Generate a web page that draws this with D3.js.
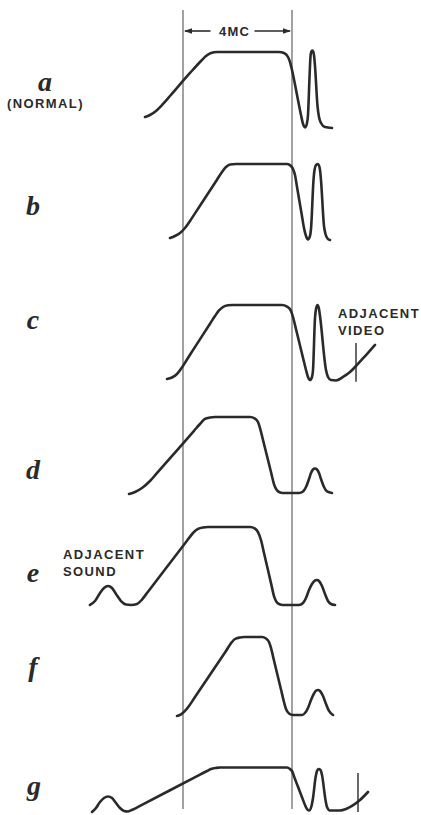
<!DOCTYPE html>
<html>
<head>
<meta charset="utf-8">
<script src="https://cdn.jsdelivr.net/npm/d3@7"></script>
<style>
  html, body { margin: 0; padding: 0; background: #fff; }
  svg { display: block; }
</style>
</head>
<body>
<script>
// IF response curves. Frequency in MC (0 = left marker, 4 = right marker),
// response in percent of the flat top of the pass band.
const markerFreqs = [0, 4];
const bandwidthText = "4MC";
const rowLetters = ["a", "b", "c", "d", "e", "f", "g"];

const curveA = [[-1.394,14.5],[-1.211,17.1],[-0.991,22.4],[-0.734,31.6],[-0.477,42.1],[0.257,72.4],[0.661,88.2],[0.844,94.7],[1.028,98.7],[1.248,100],[3.523,100],[3.706,98.7],[3.853,93.4],[3.927,86.8],[4.000,76.3],[4.220,36.8],[4.330,17.1],[4.404,5.3],[4.477,0.7],[4.543,5.3],[4.587,17.1],[4.646,69.7],[4.675,92.1],[4.705,100],[4.745,102],[4.785,100],[4.815,93.4],[4.844,81.6],[4.936,28.9],[4.991,14.5],[5.064,6.6],[5.211,1.3],[5.468,0]];
const curveB = [[-0.477,2.6],[-0.294,5.3],[-0.110,9.2],[0.073,15.8],[0.257,25.0],[0.440,35.0],[1.248,79.3],[1.431,89.5],[1.578,96.1],[1.725,99.3],[1.945,100],[3.817,100],[3.963,97.4],[4.037,93.4],[4.110,85.5],[4.183,70.0],[4.367,31.3],[4.440,15.8],[4.514,5.3],[4.587,0.7],[4.661,5.3],[4.697,14.5],[4.789,78.9],[4.826,92.1],[4.881,98.7],[4.936,100],[4.991,98],[5.028,92.1],[5.064,78.9],[5.174,18.4],[5.229,7.9],[5.303,2.0],[5.394,0]];
const curveC = [[-0.587,2.6],[-0.404,4.6],[-0.220,9.2],[-0.037,17.8],[0.147,28.3],[0.330,38.6],[0.991,75.3],[1.174,85.5],[1.321,92.8],[1.468,97.4],[1.651,99.6],[1.835,100],[3.633,100],[3.817,98.0],[3.963,92.1],[4.037,84.2],[4.147,68.2],[4.404,30.5],[4.514,14.5],[4.587,5.3],[4.661,1.3],[4.734,5.3],[4.771,14.5],[4.844,82.9],[4.881,94.7],[4.936,100],[4.991,94.7],[5.028,85.5],[5.248,14.5],[5.321,5.3],[5.431,1.3],[5.615,0.7],[5.872,5.3],[6.128,11.8],[6.385,21.1],[6.716,34.2],[7.046,47.4]];
const curveD = [[-1.982,-1.3],[-1.761,1.3],[-1.505,6.6],[-1.211,15.8],[-0.991,24.7],[0.404,81.8],[0.624,90.8],[0.807,97.4],[0.991,99.3],[1.174,100],[2.459,100],[2.642,98.0],[2.752,93.4],[2.826,85.5],[2.936,69.7],[3.229,27.6],[3.339,11.8],[3.413,5.3],[3.523,1.3],[3.670,0],[4.257,0],[4.404,2.0],[4.514,7.9],[4.624,18.4],[4.697,26.3],[4.771,30.9],[4.844,32.2],[4.917,30.9],[4.991,26.3],[5.064,18.4],[5.174,7.9],[5.284,2.0],[5.468,0]];
const curveE = [[-3.413,-1.3],[-3.229,3.9],[-3.046,14.5],[-2.899,21.1],[-2.752,23.7],[-2.606,21.1],[-2.459,13.2],[-2.275,3.9],[-2.092,-0.7],[-1.908,-1.3],[-1.688,0],[-1.505,5.9],[-1.284,16.2],[0.147,83.2],[0.367,93.4],[0.550,98.7],[0.734,100.7],[0.917,101.3],[2.459,101.3],[2.642,99.3],[2.752,94.7],[2.862,84.2],[2.972,67.2],[3.229,27.5],[3.339,10.5],[3.413,3.9],[3.523,0],[3.670,-1.3],[4.257,-1.3],[4.404,1.3],[4.514,7.9],[4.624,18.4],[4.734,26.3],[4.844,30.9],[4.917,31.6],[4.991,30.3],[5.101,23.7],[5.211,13.2],[5.321,3.9],[5.431,0],[5.578,-1.3]];
const curveF = [[-0.220,-1.3],[-0.073,0.7],[0.073,5.3],[0.220,11.8],[0.440,23.6],[1.578,84.3],[1.798,96.1],[1.908,100],[2.092,102],[2.239,102.6],[2.899,102.6],[3.046,100.7],[3.156,96.1],[3.229,88.2],[3.339,71.7],[3.596,33.6],[3.706,17.1],[3.780,7.9],[3.890,2.0],[4.037,0],[4.367,0],[4.477,2.6],[4.587,9.2],[4.697,19.7],[4.807,28.3],[4.881,32.2],[4.954,32.9],[5.028,31.6],[5.138,25.0],[5.248,14.5],[5.358,5.3],[5.505,0]];
const curveG = [[-3.339,-2.6],[-3.193,2.6],[-3.046,10.5],[-2.899,15.8],[-2.752,17.8],[-2.606,15.8],[-2.459,9.2],[-2.312,2.6],[-2.165,-1.3],[-2.018,-2.0],[-1.835,0.7],[-1.578,5.4],[0.624,46.6],[0.881,51.3],[1.028,53.9],[1.211,55.3],[1.358,55.9],[3.817,55.9],[3.927,53.9],[4.000,51.3],[4.110,40.8],[4.220,30.5],[4.367,16.8],[4.477,6.6],[4.550,1.3],[4.624,-0.7],[4.716,5.3],[4.771,15.8],[4.862,42.1],[4.917,51.3],[4.972,53.9],[5.046,52.6],[5.101,46.1],[5.229,13.2],[5.284,3.9],[5.394,-0.7],[5.761,-0.7],[5.982,1.3],[6.202,5.3],[6.495,13.2],[6.789,23.7]];
const curves = [curveA, curveB, curveC, curveD, curveE, curveF, curveG];

// short carrier ticks: [row, MC, low %, high %]
const carrierTicks = [[2, 6.349, -1, 50], [6, 6.422, -2.6, 48.7]];

// notes: [row, lines]
const notes = [[0, ["(NORMAL)"]], [2, ["ADJACENT", "VIDEO"]], [4, ["ADJACENT", "SOUND"]]];

// ---- layout ----
const W = 421, H = 815;
const rowBase = [128, 240, 381, 493, 604, 715, 810];
const rowHeight = 76;
const letterPos = [[45, 91], [33, 215], [33, 329], [33, 479], [33, 582], [33, 676], [34, 795]];
const notePos = [[7, 108, 17], [338, 318, 17], [63, 559, 17]];

const svg = d3.select("body").append("svg")
  .attr("width", W).attr("height", H)
  .attr("viewBox", `0 0 ${W} ${H}`);
svg.append("rect").attr("width", W).attr("height", H).attr("fill", "#fff");

const x = d3.scaleLinear().domain([0, 4]).range([183, 292]);
const yRow = i => d3.scaleLinear().domain([0, 100]).range([rowBase[i], rowBase[i] - rowHeight]);

const ink = "#2a2a2a";

// marker lines
svg.append("g").selectAll("line").data(markerFreqs).join("line")
  .attr("x1", d => x(d)).attr("x2", d => x(d))
  .attr("y1", 10).attr("y2", 809)
  .attr("stroke", "#555").attr("stroke-width", 1.1);

// bandwidth dimension
const dimY = 31;
const x0 = x(markerFreqs[0]), x1 = x(markerFreqs[1]);
const mid = (x0 + x1) / 2 - 3;
const dim = svg.append("g").attr("stroke", ink).attr("fill", ink);
dim.append("line").attr("x1", x0 + 2).attr("x2", mid - 24).attr("y1", dimY).attr("y2", dimY).attr("stroke-width", 1.6);
dim.append("line").attr("x1", mid + 20).attr("x2", x1 - 2).attr("y1", dimY).attr("y2", dimY).attr("stroke-width", 1.6);
dim.append("path").attr("stroke", "none")
  .attr("d", `M${x0 + 1},${dimY} L${x0 + 9},${dimY - 2.8} L${x0 + 9},${dimY + 2.8} Z`);
dim.append("path").attr("stroke", "none")
  .attr("d", `M${x1 - 1},${dimY} L${x1 - 9},${dimY - 2.8} L${x1 - 9},${dimY + 2.8} Z`);
svg.append("text").attr("x", mid).attr("y", dimY + 5)
  .attr("text-anchor", "middle")
  .attr("font-family", "'Liberation Sans', Arial, sans-serif")
  .attr("font-weight", 700).attr("font-size", 13).attr("letter-spacing", 1.2)
  .attr("fill", ink).text(bandwidthText);

// response curves
curves.forEach((c, i) => {
  const y = yRow(i);
  const line = d3.line().x(d => x(d[0])).y(d => y(d[1])).curve(d3.curveMonotoneX);
  svg.append("path").datum(c).attr("d", line)
    .attr("fill", "none").attr("stroke", ink).attr("stroke-width", 2.6)
    .attr("stroke-linejoin", "round").attr("stroke-linecap", "round");
});

// carrier ticks
svg.append("g").selectAll("line").data(carrierTicks).join("line")
  .attr("x1", d => x(d[1])).attr("x2", d => x(d[1]))
  .attr("y1", d => yRow(d[0])(d[2])).attr("y2", d => yRow(d[0])(d[3]))
  .attr("stroke", ink).attr("stroke-width", 1.4);

// row letters
svg.append("g").selectAll("text").data(rowLetters).join("text")
  .attr("x", (d, i) => letterPos[i][0]).attr("y", (d, i) => letterPos[i][1])
  .attr("text-anchor", "middle")
  .attr("font-family", "'Liberation Serif', 'DejaVu Serif', serif")
  .attr("font-style", "italic").attr("font-weight", 700).attr("font-size", 28)
  .attr("fill", ink).text(d => d);

// notes
notes.forEach((n, k) => {
  const [px, py, lh] = notePos[k];
  const t = svg.append("text")
    .attr("font-family", "'Liberation Sans', Arial, sans-serif")
    .attr("font-weight", 700).attr("font-size", 13).attr("letter-spacing", 1.4)
    .attr("fill", ink);
  n[1].forEach((s, j) => t.append("tspan").attr("x", px).attr("y", py + j * lh).text(s));
});
</script>
</body>
</html>
